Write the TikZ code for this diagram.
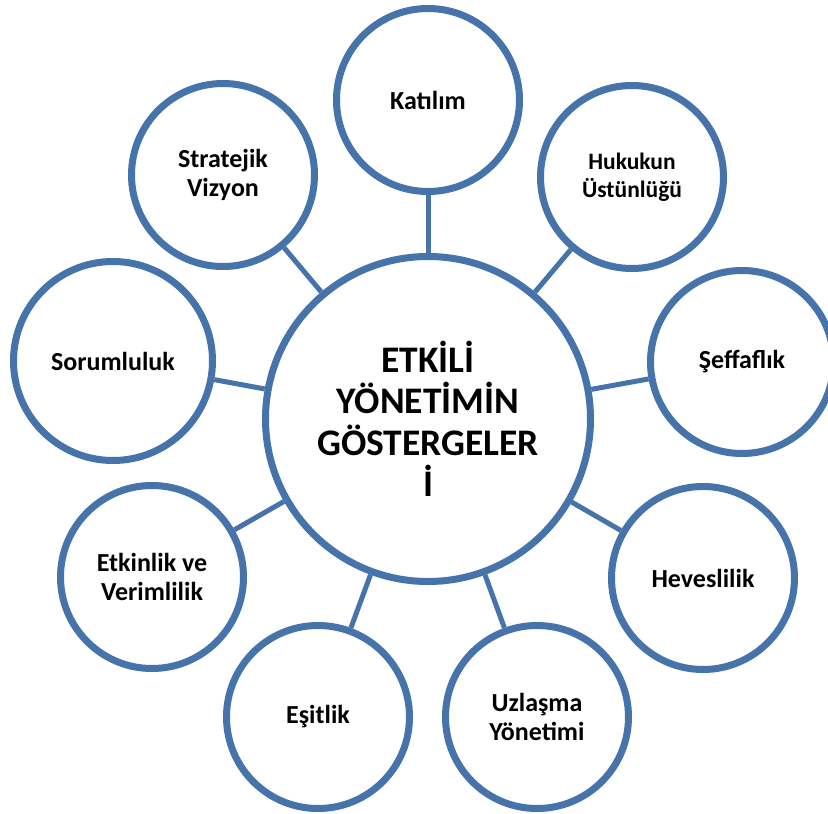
\documentclass[tikz,border=0pt]{standalone}
\usepackage{fontspec}
\setmainfont{Carlito}
\usetikzlibrary{shadows}
\definecolor{ringblue}{RGB}{70,115,170}
\tikzset{
  item/.style={circle,draw=ringblue,line width=7pt,fill=white,minimum size=183pt,
    align=center,font=\bfseries\fontsize{26}{29}\selectfont,
    drop shadow={opacity=0.25,shadow xshift=1pt,shadow yshift=-2.5pt}},
  hub/.style={item,minimum size=325pt,font=\bfseries\fontsize{37.5}{41.5}\selectfont},
  link/.style={draw=ringblue,line width=5pt}
}
\begin{document}
\begin{tikzpicture}[x=1pt,y=-1pt]
\useasboundingbox (0,0) rectangle (828,814);
\node[hub] (etkili) at (428,419) {ETKİLİ\\YÖNETİMİN\\GÖSTERGELER\\İ};
\node[item] (katilim) at (428,100) {Katılım};
\node[item,font=\bfseries\fontsize{23.5}{28}\selectfont] (hukuk) at (632,177) {Hukukun\\Üstünlüğü};
\node[item] (seffaf) at (742,362) {Şeffaflık};
\node[item] (heves) at (703,578) {Heveslilik};
\node[item] (uzlasma) at (537,717) {Uzlaşma\\Yönetimi};
\node[item] (esitlik) at (318,717) {Eşitlik};
\node[item] (etkinlik) at (152,577) {Etkinlik ve\\Verimlilik};
\node[item,minimum size=199pt] (sorum) at (113,361) {Sorumluluk};
\node[item] (vizyon) at (223,175) {Stratejik\\Vizyon};
\foreach \n in {katilim,hukuk,seffaf,heves,uzlasma,esitlik,etkinlik,sorum,vizyon}
  \draw[link] (etkili) -- (\n);
\end{tikzpicture}
\end{document}
